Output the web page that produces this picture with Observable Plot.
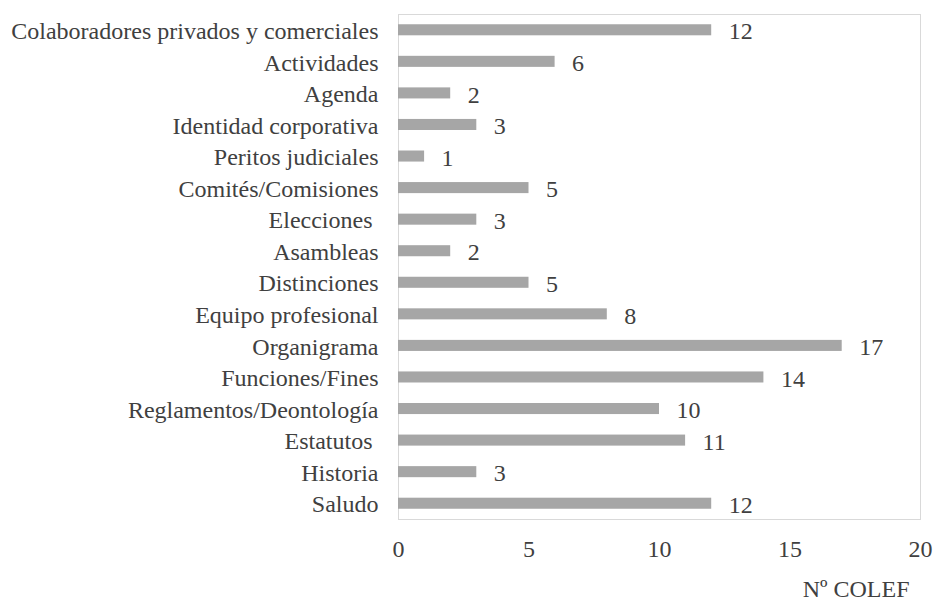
<!DOCTYPE html>
<html>
<head>
<meta charset="utf-8">
<script src="https://cdn.jsdelivr.net/npm/d3@7"></script>
<script src="https://cdn.jsdelivr.net/npm/@observablehq/plot@0.6"></script>
<style>
  html, body { margin: 0; padding: 0; background: #fff; }
  svg, svg text { font-family: "Liberation Serif", "Times New Roman", serif !important; font-size: 24px !important; white-space: pre; }
</style>
</head>
<body>
<div id="chart"></div>
<script>
const categories = [
  "Colaboradores privados y comerciales",
  "Actividades",
  "Agenda",
  "Identidad corporativa",
  "Peritos judiciales",
  "Comités/Comisiones",
  "Elecciones ",
  "Asambleas",
  "Distinciones",
  "Equipo profesional",
  "Organigrama",
  "Funciones/Fines",
  "Reglamentos/Deontología",
  "Estatutos ",
  "Historia",
  "Saludo"
];
const values = [12, 6, 2, 3, 1, 5, 3, 2, 5, 8, 17, 14, 10, 11, 3, 12];
const xTicks = [0, 5, 10, 15, 20];
const axisTitle = "Nº COLEF";

const data = categories.map((c, i) => ({category: c, value: values[i]}));
const font = "Liberation Serif";

const chart = Plot.plot({
  width: 935,
  height: 610,
  marginLeft: 398,
  marginRight: 15,
  marginTop: 14,
  marginBottom: 91,
  style: {fontFamily: font, fontSize: "24px", color: "#404040", background: "#fff"},
  x: {domain: [0, 20], ticks: xTicks, label: null, round: false},
  y: {domain: categories, paddingInner: 0.65, paddingOuter: 0.325, round: false, label: null},
  marks: [
    Plot.frame({stroke: "#d9d9d9"}),
    Plot.barX(data, {x: "value", y: "category", fill: "#a6a6a6"}),
    Plot.text(data, {x: "value", y: "category", text: d => String(d.value), textAnchor: "start", dx: 17, dy: 1.5, fill: "#404040", fontFamily: font, fontSize: 24}),
    Plot.axisX({ticks: xTicks, tickSize: 0, tickPadding: 20, label: null, fill: "#404040", fontFamily: font, fontSize: 24}),
    Plot.axisY({tickSize: 0, tickPadding: 20, dy: 1, label: null, fill: "#404040", fontFamily: font, fontSize: 24}),
    Plot.text([axisTitle], {frameAnchor: "bottom-right", dy: 77, dx: -11, textAnchor: "end", fill: "#404040", fontFamily: font, fontSize: 24})
  ]
});
document.getElementById("chart").appendChild(chart);
</script>
</body>
</html>
